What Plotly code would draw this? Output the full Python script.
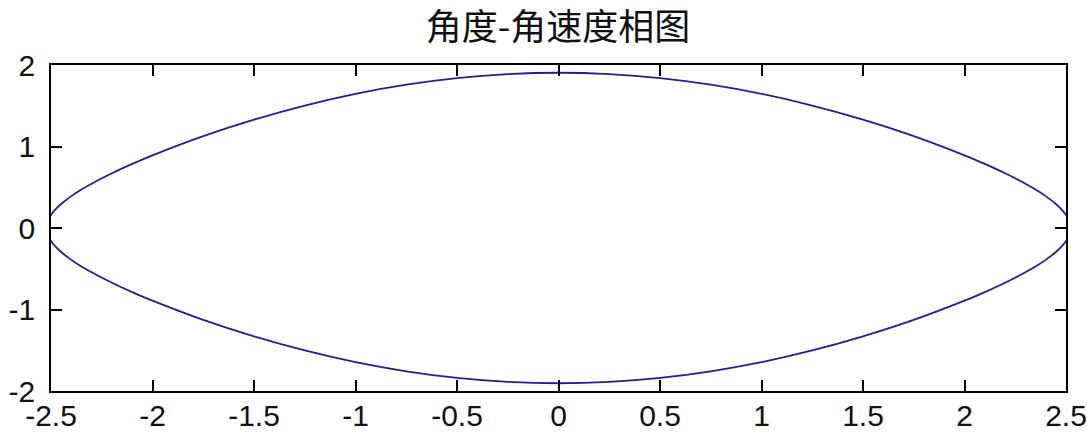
import plotly.graph_objects as go

# Pendulum phase portrait: angle (rad) vs angular velocity (rad/s)
# Upper branch, left to right
theta_upper = [-2.5217, -2.51, -2.50, -2.48, -2.45, -2.40, -2.35, -2.30, -2.20, -2.10,
               -2.00, -1.75, -1.50, -1.25, -1.00, -0.75, -0.50, -0.25, 0.00,
               0.25, 0.50, 0.75, 1.00, 1.25, 1.50, 1.75, 2.00,
               2.10, 2.20, 2.30, 2.35, 2.40, 2.45, 2.48, 2.50, 2.51, 2.5217]
omega_upper = [0.000, 0.117, 0.160, 0.223, 0.294, 0.391, 0.472, 0.543, 0.671, 0.786,
               0.892, 1.128, 1.330, 1.503, 1.646, 1.758, 1.839, 1.888, 1.905,
               1.888, 1.839, 1.758, 1.646, 1.503, 1.330, 1.128, 0.892,
               0.786, 0.671, 0.543, 0.472, 0.391, 0.294, 0.223, 0.160, 0.117, 0.000]

# Lower branch, right to left
theta_lower = [2.51, 2.50, 2.48, 2.45, 2.40, 2.35, 2.30, 2.20, 2.10,
               2.00, 1.75, 1.50, 1.25, 1.00, 0.75, 0.50, 0.25, 0.00,
               -0.25, -0.50, -0.75, -1.00, -1.25, -1.50, -1.75, -2.00,
               -2.10, -2.20, -2.30, -2.35, -2.40, -2.45, -2.48, -2.50, -2.51, -2.5217]
omega_lower = [-0.117, -0.160, -0.223, -0.294, -0.391, -0.472, -0.543, -0.671, -0.786,
               -0.892, -1.128, -1.330, -1.503, -1.646, -1.758, -1.839, -1.888, -1.905,
               -1.888, -1.839, -1.758, -1.646, -1.503, -1.330, -1.128, -0.892,
               -0.786, -0.671, -0.543, -0.472, -0.391, -0.294, -0.223, -0.160, -0.117, 0.000]

x_ticks = [-2.5, -2, -1.5, -1, -0.5, 0, 0.5, 1, 1.5, 2, 2.5]
x_tick_labels = ["-2.5", "-2", "-1.5", "-1", "-0.5", "0", "0.5", "1", "1.5", "2", "2.5"]
y_ticks = [-2, -1, 0, 1, 2]
y_tick_labels = ["-2", "-1", "0", "1", "2"]

title_text = "角度-角速度相图"

fig = go.Figure(
    go.Scatter(
        x=theta_upper + theta_lower,
        y=omega_upper + omega_lower,
        mode="lines",
        line=dict(color="#1f1f99", width=1.8, shape="spline", smoothing=0.6),
        hoverinfo="skip",
    )
)

tick_font = dict(family="Liberation Sans, Arial, sans-serif", size=30, color="#111111")

fig.update_layout(
    width=1087,
    height=432,
    margin=dict(l=51, r=21, t=65, b=41),
    paper_bgcolor="white",
    plot_bgcolor="white",
    showlegend=False,
    title=dict(
        text=title_text,
        x=0.5134, xanchor="center",
        y=1 - 27 / 432, yanchor="middle",
        font=dict(family="Noto Sans CJK SC", size=36, color="#111111"),
    ),
    xaxis=dict(
        range=[-2.5, 2.5],
        tickmode="array", tickvals=x_ticks, ticktext=x_tick_labels,
        ticks="inside", ticklen=11, tickwidth=1.5, tickcolor="black",
        showline=True, linecolor="black", linewidth=1.5, mirror="ticks",
        showgrid=False, zeroline=False, automargin=False,
        tickfont=tick_font, ticklabelstandoff=-3,
    ),
    yaxis=dict(
        range=[-2, 2],
        tickmode="array", tickvals=y_ticks, ticktext=y_tick_labels,
        ticks="inside", ticklen=11, tickwidth=1.5, tickcolor="black",
        showline=True, linecolor="black", linewidth=1.5, mirror="ticks",
        showgrid=False, zeroline=False, automargin=False,
        tickfont=tick_font, ticklabelstandoff=8,
    ),
)

fig.write_html("out.html")
